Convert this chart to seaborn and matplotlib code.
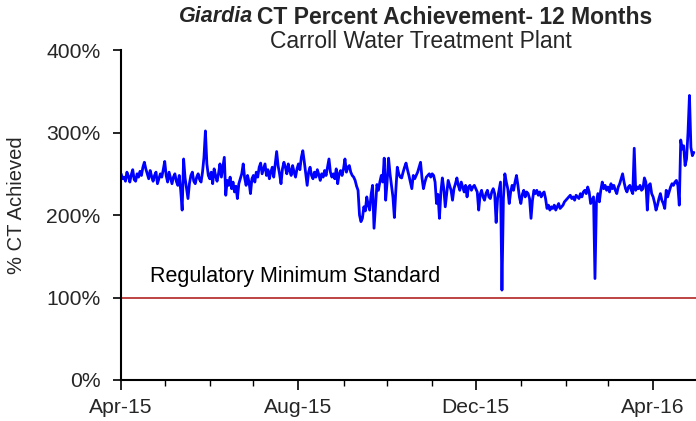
import numpy as np
import pandas as pd
import matplotlib
matplotlib.use("Agg")
import matplotlib.pyplot as plt
import matplotlib.dates as mdates
from matplotlib.ticker import FuncFormatter
import seaborn as sns

# Daily % CT achieved, by month
apr15 = [250, 244, 246, 241, 252, 247, 240, 249, 255, 243, 241, 250, 246, 253, 248, 258, 264, 256, 250, 244,
         254, 247, 241, 248, 252, 238, 244, 250, 246, 255]
may15 = [265, 248, 240, 252, 245, 238, 246, 250, 241, 236, 248, 230, 206, 268, 245, 232, 220, 238, 248, 252,
         241, 238, 246, 250, 243, 240, 252, 270, 302, 262, 248]
jun15 = [244, 252, 238, 256, 248, 241, 250, 262, 246, 258, 270, 224, 242, 236, 246, 232, 240, 228, 235, 220,
         238, 244, 250, 262, 245, 236, 248, 240, 226, 244]
jul15 = [248, 240, 252, 246, 258, 263, 250, 256, 262, 248, 255, 244, 252, 258, 246, 262, 277, 260, 250, 238,
         256, 264, 258, 250, 262, 254, 248, 260, 252, 246, 256]
aug15 = [262, 255, 270, 278, 265, 250, 236, 252, 258, 248, 244, 252, 246, 255, 249, 242, 250, 246, 254, 248,
         258, 268, 252, 246, 250, 244, 256, 238, 250, 254, 248]
sep15 = [256, 268, 252, 258, 260, 252, 248, 246, 242, 235, 230, 200, 192, 196, 210, 205, 222, 212, 206, 225,
         236, 184, 210, 237, 230, 240, 248, 240, 269, 218]
oct15 = [240, 269, 250, 236, 222, 197, 230, 258, 250, 246, 245, 252, 258, 263, 255, 248, 240, 232, 248, 244,
         248, 252, 258, 264, 245, 232, 240, 246, 248, 250, 246]
nov15 = [250, 248, 240, 214, 225, 196, 228, 245, 232, 210, 226, 242, 236, 230, 218, 232, 238, 245, 236, 230,
         240, 234, 228, 236, 222, 234, 236, 230, 234, 236]
dec15 = [232, 228, 206, 225, 230, 222, 218, 226, 230, 222, 220, 228, 232, 226, 191, 220, 230, 240, 109, 220,
         250, 240, 232, 214, 228, 236, 230, 240, 248, 236, 222]
jan16 = [214, 225, 230, 222, 228, 226, 220, 196, 218, 230, 226, 230, 224, 228, 222, 226, 228, 220, 208, 212,
         206, 210, 208, 212, 206, 210, 214, 208, 210, 212, 216]
feb16 = [218, 220, 222, 224, 220, 222, 218, 224, 222, 220, 226, 222, 228, 230, 226, 234, 228, 214, 218, 222,
         123, 216, 226, 216, 230, 240, 232, 236, 230]
mar16 = [234, 228, 238, 232, 236, 230, 226, 234, 238, 244, 250, 240, 232, 228, 234, 236, 230, 226, 281, 230,
         234, 232, 236, 230, 232, 245, 240, 206, 236, 238, 226]
apr16 = [222, 215, 206, 212, 220, 226, 218, 214, 208, 230, 222, 228, 234, 238, 236, 240, 242, 236, 212, 291,
         280, 284, 260, 268, 300, 345, 282, 272, 276]

month_starts = ["2015-04-01", "2015-05-01", "2015-06-01", "2015-07-01", "2015-08-01", "2015-09-01",
                "2015-10-01", "2015-11-01", "2015-12-01", "2016-01-01", "2016-02-01", "2016-03-01",
                "2016-04-01"]
month_values = [apr15, may15, jun15, jul15, aug15, sep15, oct15, nov15, dec15, jan16, feb16, mar16, apr16]

regulatory_min = 100
y_ticks = [0, 100, 200, 300, 400]

dates, vals = [], []
for start, mv in zip(month_starts, month_values):
    dates.extend(pd.date_range(start, periods=len(mv), freq="D"))
    vals.extend(mv)
df = pd.DataFrame({"date": dates, "pct": vals})

sns.set_style("ticks")
plt.rcParams["font.family"] = ["Liberation Sans", "DejaVu Sans"]

fig = plt.figure(figsize=(6.96, 4.21), dpi=100)
ax = fig.add_axes([0.174, 0.0974, 0.826, 0.7836])

sns.lineplot(data=df, x="date", y="pct", ax=ax, color="#0000FF", linewidth=2.0)
ax.axhline(regulatory_min, color="#B22222", linewidth=1.2, zorder=1)
ax.text(pd.Timestamp("2015-04-21"), 125, "Regulatory Minimum Standard", fontsize=15.5,
        va="center", ha="left", color="black")

ax.set_ylim(0, 400)
ax.set_yticks(y_ticks)
ax.yaxis.set_major_formatter(FuncFormatter(lambda v, p: f"{v:.0f}%"))
ax.set_xlim(pd.Timestamp("2015-04-01"), pd.Timestamp("2016-04-30 12:00"))
ax.xaxis.set_major_locator(mdates.MonthLocator(bymonth=[4, 8, 12]))
ax.xaxis.set_minor_locator(mdates.MonthLocator())
ax.xaxis.set_major_formatter(mdates.DateFormatter("%b-%y"))

ax.tick_params(axis="both", which="major", labelsize=15.2, length=6, width=1.2, color="black", direction="out")
ax.tick_params(axis="x", which="minor", length=4, width=1.0, color="black", direction="out")
ax.tick_params(axis="x", which="major", length=7, pad=6)
ax.tick_params(axis="y", which="major", pad=9)

for s in ["top", "right"]:
    ax.spines[s].set_visible(False)
for s in ["left", "bottom"]:
    ax.spines[s].set_color("black")
    ax.spines[s].set_linewidth(1.5)

ax.set_xlabel("")
ax.set_ylabel("% CT Achieved", fontsize=14.5)
ax.yaxis.set_label_coords(-0.165, 0.53)

fig.text(253 / 696, 1 - 17 / 421, "Giardia", fontsize=15.5, fontweight="bold", fontstyle="italic",
         ha="right", va="center")
fig.text(257 / 696, 1 - 17 / 421, "CT Percent Achievement- 12 Months", fontsize=16.5, fontweight="bold",
         ha="left", va="center")
fig.text(421 / 696, 1 - 41 / 421, "Carroll Water Treatment Plant", fontsize=16.5, ha="center", va="center")

fig.savefig("out.png", dpi=100)
